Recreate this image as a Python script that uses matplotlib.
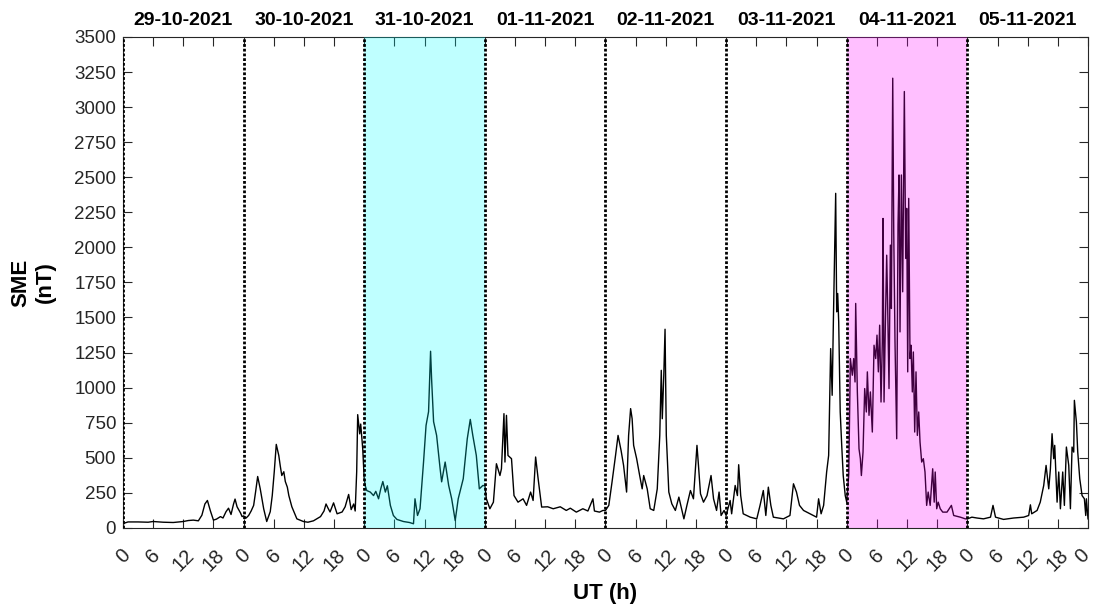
import numpy as np
import matplotlib
matplotlib.use("Agg")
import matplotlib.pyplot as plt
from matplotlib.transforms import ScaledTranslation

plt.rcParams["font.family"] = ["Liberation Sans", "DejaVu Sans"]

# day titles shown above each 24 h block
day_labels = ["29-10-2021", "30-10-2021", "31-10-2021", "01-11-2021",
              "02-11-2021", "03-11-2021", "04-11-2021", "05-11-2021"]

# SME (nT), hour of day -> value, one pair per day
h29 = [0, 0.4, 1, 3, 5, 6, 8, 10, 12, 13, 14, 15, 15.7, 16.3, 16.8, 17.4, 18.0, 18.6, 19.4, 19.9,
       20.5, 21.0, 21.5, 22.0, 22.3, 22.7, 23.0, 23.4, 23.7]
v29 = [25, 35, 42, 42, 40, 45, 40, 38, 45, 52, 55, 50, 90, 170, 195, 120, 55, 62, 80, 70,
       115, 140, 95, 170, 205, 150, 130, 105, 80]

h30 = [0, 0.5, 1.0, 1.5, 2.0, 2.4, 2.8, 3.3, 4.0, 4.6, 5.3, 5.7, 6.1, 6.5, 7.0, 7.3, 7.6, 8.0, 8.3,
       8.7, 9.0, 9.6, 10.6, 11.9, 12.8, 13.9, 15.3, 16.0, 16.4, 16.8, 17.2, 17.9, 18.6, 19.6, 20.2,
       20.9, 21.4, 21.9, 22.2, 22.5, 22.7, 23.1, 23.3, 23.7]
v30 = [85, 70, 88, 120, 160, 260, 366, 280, 135, 45, 115, 230, 400, 595, 516, 440, 373, 400, 330,
       290, 230, 150, 64, 45, 40, 50, 80, 120, 170, 140, 113, 178, 100, 113, 150,
       238, 130, 170, 120, 400, 807, 670, 740, 564]

h31 = [0, 0.2, 0.5, 1.2, 1.85, 2.3, 2.85, 3.3, 3.7, 4.2, 4.6, 5.2, 5.8, 6.5, 7.8, 9.0, 9.8, 10.1,
       10.6, 11.1, 11.8, 12.3, 12.8, 13.2, 13.4, 13.8, 14.4, 15.1, 15.4, 16.1, 16.8, 17.4, 18.1,
       18.7, 19.7, 20.5, 21.1, 21.6, 22.3, 22.9, 23.6]
v31 = [350, 300, 266, 255, 230, 260, 207, 280, 330, 255, 300, 160, 88, 60, 45, 38, 29, 207,
       88, 136, 469, 730, 828, 1259, 1064, 757, 659, 421, 328, 469, 302, 207, 52,
       207, 350, 635, 773, 659, 516, 278, 302]

h01 = [0, 0.3, 1.0, 1.7, 2.3, 3.0, 3.3, 3.8, 4.0, 4.3, 4.6, 5.3, 5.8, 6.6, 7.6, 8.3, 9.1, 9.6,
       10.1, 10.6, 11.3, 12.5, 13.6, 15.0, 16.2, 17.0, 18.2, 19.5, 20.5, 21.5, 21.8, 22.8, 23.5]
v01 = [300, 207, 136, 183, 457, 373, 421, 814, 469, 802, 516, 493, 230, 183, 207, 160, 255, 195,
       505, 350, 148, 150, 136, 150, 124, 140, 112, 136, 120, 207, 120, 112, 124]

h02 = [0, 0.66, 1.3, 2.0, 2.5, 3.1, 3.6, 4.2, 4.6, 5.0, 5.3, 5.6, 6.2, 6.8, 7.3, 7.6, 8.3, 8.9,
       9.6, 10.3, 10.8, 11.1, 11.3, 11.6, 11.85, 12.1, 12.6, 13.2, 13.9, 14.6, 15.6, 16.2, 16.9,
       17.5, 18.2, 18.5, 18.9, 19.5, 20.2, 21.0, 21.5, 22.1, 22.6, 23.0, 23.6]
v02 = [124, 160, 326, 516, 659, 552, 445, 255, 659, 850, 778, 588, 493, 373, 278, 373, 278, 136,
       124, 278, 659, 1123, 778, 1088, 1416, 659, 255, 171, 124, 219, 64, 160, 266,
       207, 588, 445, 243, 183, 230, 373, 207, 124, 255, 88, 124]

h03 = [0, 0.8, 1.1, 1.8, 2.25, 2.5, 2.9, 3.4, 4.8, 6.1, 6.75, 7.4, 7.9, 8.4, 8.9, 9.4, 11.4, 12.7,
       13.4, 14.0, 14.6, 15.4, 16.7, 18.0, 18.4, 18.9, 19.4, 20.0, 20.4, 20.8, 21.1, 21.35, 21.8,
       22.0, 22.2, 22.4, 22.7, 23.0, 23.3, 23.7]
v03 = [88, 195, 100, 302, 230, 450, 230, 100, 76, 64, 160, 266, 88, 290, 160, 76, 64, 88,
       314, 255, 160, 124, 100, 76, 207, 100, 160, 398, 516, 1278, 945, 1492, 2385,
       1540, 1671, 1469, 826, 588, 373, 230]

h04 = [0, 0.4, 0.72, 1.11, 1.38, 1.65, 1.78, 2.11, 2.44, 2.71,
       2.91, 3.24, 3.57, 3.90, 4.10, 4.43, 4.70, 5.09, 5.43, 5.76,
       6.02, 6.29, 6.55, 6.82, 7.08, 7.22, 7.42, 7.68, 7.95, 8.15,
       8.41, 8.68, 8.88, 9.15, 9.35, 9.6, 9.94, 10.2, 10.4, 10.6,
       10.87, 11.13, 11.46, 11.73, 11.93, 12.13, 12.33, 12.59, 12.79, 13.05,
       13.25, 13.52, 13.78, 14.05, 14.32, 14.58, 14.91, 15.24, 15.57, 15.9,
       16.2, 16.6, 17.1, 17.4, 17.6, 17.9, 18.2, 18.6, 19.1, 19.95,
       20.82, 21.28, 22.6, 23.6]
v04 = [183, 380, 1207, 1088, 1207, 1040, 1600, 969, 564, 493,
       373, 540, 993, 826, 1112, 802, 969, 683, 1302, 1207,
       1374, 1112, 1445, 897, 1326, 2206, 897, 1445, 1944, 1564,
       993, 2016, 1564, 3206, 2111, 1326, 635, 2158, 2516, 1397,
       2516, 1683, 3111, 1921, 2278, 1112, 2349, 1207, 1302, 969,
       1254, 683, 1112, 659, 826, 612, 469, 493, 398, 160,
       255, 160, 421, 183, 398, 136, 183, 136, 112, 112,
       160, 88, 76, 64]

h05 = [0, 0.9, 1.9, 3.2, 4.6, 5.1, 5.6, 7.2, 9.2, 11.2,
       12.2, 12.54, 12.8, 13.87, 14.5, 15.19, 15.66, 16.19, 16.52, 16.85,
       17.18, 17.38, 17.85, 18.18, 18.51, 18.97, 19.30, 19.70, 20.17, 20.50,
       20.83, 21.16, 21.29, 21.69, 21.96, 22.36, 22.82, 23.28, 23.55, 23.68,
       24.0]
v05 = [64, 76, 70, 64, 76, 160, 76, 60, 70, 76,
       88, 164, 100, 124, 183, 302, 445, 278, 421, 671,
       493, 588, 183, 398, 136, 398, 160, 576, 445, 136,
       576, 540, 909, 755, 540, 350, 230, 207, 88, 207,
       64]

hours = [h29, h30, h31, h01, h02, h03, h04, h05]
values = [v29, v30, v31, v01, v02, v03, v04, v05]

# highlighted days (index into day_labels) and their colours
shaded_days = [2, 6]
shade_colors = ["cyan", "magenta"]

t = np.concatenate([np.array(h) + 24 * i for i, h in enumerate(hours)])
sme = np.concatenate([np.array(v, dtype=float) for v in values])

fig = plt.figure(figsize=(10.96, 6.06), dpi=100)
ax = fig.add_axes([0.1122, 0.129, 0.8805, 0.810])

ax.plot(t, sme, color="black", lw=1.0, zorder=2)

# shading drawn over the trace, like the original
for d, c in zip(shaded_days, shade_colors):
    ax.axvspan(24 * d, 24 * (d + 1), color=c, alpha=0.25, lw=0, zorder=3)

for d in range(len(day_labels)):
    ax.axvline(24 * d, color="black", lw=2, linestyle=(0, (1, 0.7)), zorder=4)
    ax.annotate(day_labels[d], xy=(24 * d + 12, 1.0), xycoords=("data", "axes fraction"),
                xytext=(0, 8.5), textcoords="offset points", ha="center", va="baseline",
                fontsize=14, fontweight="bold")

ax.set_xlim(0, 24 * len(day_labels))
ax.set_ylim(0, 3500)

xt = np.arange(0, 24 * len(day_labels) + 1, 6)
ax.set_xticks(xt)
ax.set_xticklabels([str(int(v % 24)) for v in xt], rotation=45, fontsize=14.5, color="#262626")
ax.set_yticks(np.arange(0, 3501, 250))
ax.tick_params(axis="y", labelsize=13.5, labelcolor="#262626", pad=5)
ax.tick_params(direction="in", length=6.5, width=0.8, top=True, right=True, color="#262626")
ax.tick_params(axis="x", pad=13)

# nudge the last "0" a little so it stays inside the figure
last = ax.get_xticklabels()[-1]
last.set_transform(last.get_transform() + ScaledTranslation(-4 / 72, 0, fig.dpi_scale_trans))

for s in ax.spines.values():
    s.set_color("#262626")
    s.set_linewidth(0.8)

ax.set_xlabel("UT (h)", fontsize=16, fontweight="bold", labelpad=6)
ax.set_ylabel("SME\n(nT)", fontsize=16, fontweight="bold")
ax.yaxis.set_label_coords(-0.0695, 0.5)

fig.savefig("out.png", dpi=100)
